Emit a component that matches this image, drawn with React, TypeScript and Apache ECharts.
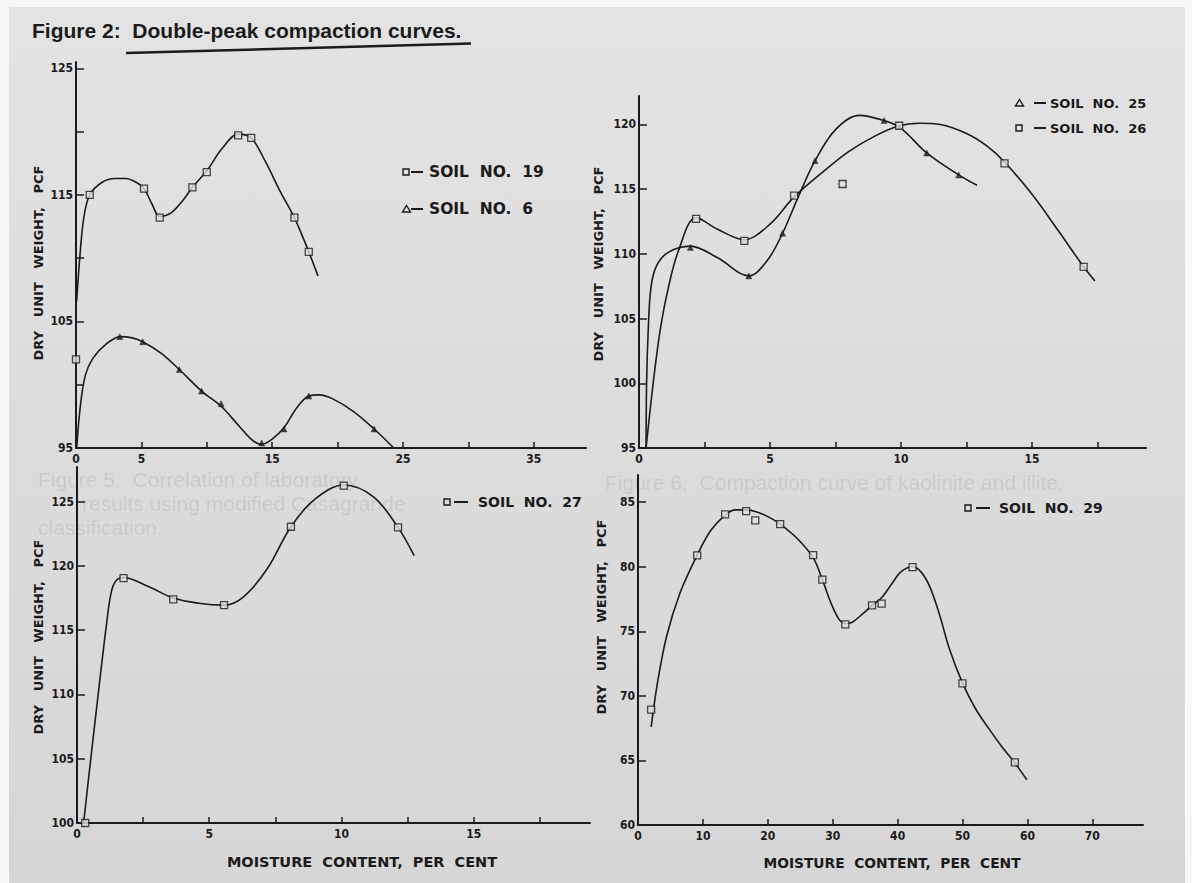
import React, { useEffect, useRef } from "react";
import * as echarts from "echarts";

// ---- Upper left: soils 19 and 6 ----
const soil19Points = [[0, 102.0], [1.05, 115.0], [5.2, 115.5], [6.4, 113.2], [8.9, 115.6], [10.0, 116.8], [12.4, 119.7], [13.4, 119.5], [16.7, 113.2], [17.8, 110.5]];
const soil19Curve = [[0.05, 106.6], [0.3, 110.2], [0.6, 113.2], [1.05, 115.0], [2.0, 116.0], [3.0, 116.3], [3.8, 116.3], [4.6, 116.0], [5.2, 115.5], [5.8, 114.3], [6.4, 113.3], [7.3, 113.6], [8.2, 114.6], [8.9, 115.6], [10.0, 116.9], [11.2, 118.7], [12.4, 119.8], [13.4, 119.5], [14.5, 117.6], [15.6, 115.3], [16.7, 113.2], [17.8, 110.5], [18.5, 108.6]];
const soil6Points = [[3.35, 103.8], [5.1, 103.4], [7.9, 101.2], [9.6, 99.5], [11.1, 98.5], [14.2, 95.4], [15.9, 96.5], [17.8, 99.1], [22.8, 96.5]];
const soil6Curve = [[0.05, 95], [0.3, 98], [0.7, 100.7], [1.3, 102.1], [2.3, 103.2], [3.4, 103.8], [4.3, 103.7], [5.1, 103.4], [6.5, 102.5], [7.9, 101.2], [9.6, 99.5], [11.1, 98.3], [12.5, 96.7], [13.5, 95.6], [14.2, 95.3], [15.0, 95.7], [15.9, 96.6], [16.9, 98.2], [17.8, 99.1], [18.6, 99.2], [19.6, 98.9], [21.2, 97.9], [22.8, 96.5], [24.3, 95]];

// ---- Upper right: soils 25 and 26 ----
const soil25Points = [[1.96, 110.5], [4.19, 108.3], [5.48, 111.6], [6.72, 117.2], [9.35, 120.3], [10.98, 117.8], [12.2, 116.1]];
const soil25Curve = [[0.27, 95], [0.29, 100], [0.35, 104], [0.45, 107.3], [0.65, 109.0], [1.1, 110.1], [1.96, 110.6], [3.0, 109.7], [4.19, 108.3], [4.9, 109.5], [5.48, 111.6], [6.1, 114.5], [6.72, 117.2], [7.5, 119.6], [8.4, 120.7], [9.35, 120.3], [10.0, 119.7], [10.98, 117.8], [12.2, 116.1], [12.9, 115.3]];
const soil26Points = [[2.18, 112.7], [4.02, 111.0], [5.92, 114.5], [7.77, 115.4], [9.93, 119.9], [13.95, 117.0], [16.97, 109.0]];
const soil26Curve = [[0.27, 95], [0.54, 100], [0.8, 104], [1.1, 107.2], [1.5, 110.2], [2.18, 112.8], [3.0, 111.9], [4.02, 111.1], [5.0, 112.3], [5.92, 114.4], [7.0, 116.3], [8.0, 117.9], [9.0, 119.1], [9.93, 119.9], [10.7, 120.1], [11.5, 120.0], [12.5, 119.3], [13.3, 118.3], [13.95, 117.1], [15.0, 114.6], [16.0, 111.8], [16.97, 109.0], [17.4, 107.9]];

// ---- Lower left: soil 27 ----
const soil27Points = [[0.31, 100.0], [1.76, 119.05], [3.64, 117.4], [5.56, 116.95], [8.09, 123.05], [10.09, 126.25], [12.14, 123.0]];
const soil27Curve = [[0.25, 100], [0.5, 104.6], [0.8, 110], [1.1, 115.2], [1.3, 118.0], [1.5, 118.9], [1.76, 119.1], [2.7, 118.4], [3.64, 117.5], [4.6, 117.1], [5.56, 116.95], [6.3, 117.6], [7.2, 119.8], [8.09, 123.05], [9.0, 125.2], [10.09, 126.3], [11.2, 125.4], [12.14, 123.0], [12.75, 120.8]];

// ---- Lower right: soil 29 ----
const soil29Points = [[2.03, 68.94], [9.12, 80.88], [13.42, 84.05], [16.66, 84.3], [18.07, 83.58], [21.9, 83.3], [26.98, 80.9], [28.4, 79.0], [31.94, 75.54], [36.06, 77.0], [37.53, 77.14], [42.3, 79.97], [49.98, 70.96], [58.06, 64.85]];
const soil29Curve = [[2.03, 67.6], [3.0, 71.0], [4.4, 74.6], [6.5, 78.0], [9.12, 80.9], [11.2, 82.8], [13.42, 84.0], [15.0, 84.4], [16.66, 84.4], [18.5, 84.2], [20.3, 83.8], [21.9, 83.3], [24.5, 82.2], [26.98, 80.7], [28.4, 79.0], [29.8, 77.1], [31.0, 75.9], [31.94, 75.6], [33.0, 75.7], [34.5, 76.3], [36.06, 77.0], [37.53, 77.6], [39.0, 78.6], [40.5, 79.6], [42.3, 80.0], [43.6, 79.6], [45.0, 78.4], [46.5, 76.2], [48.0, 73.6], [49.98, 71.0], [52.0, 69.0], [54.0, 67.5], [56.0, 66.1], [58.06, 64.8], [59.9, 63.5]];

// ---- Tick positions and labels ----
const p1XTicks = [0, 5, 10, 15, 20, 25, 30, 35];
const p1XLabels = [0, 5, 15, 25, 35];
const p1YTicks = [95, 100, 105, 110, 115, 120, 125];
const p1YLabels = [95, 105, 115, 125];
const p2XTicks = [0, 2.5, 5, 7.5, 10, 12.5, 15, 17.5];
const p2XLabels = [0, 5, 10, 15];
const p2YTicks = [95, 100, 105, 110, 115, 120];
const p3XTicks = [0, 2.5, 5, 7.5, 10, 12.5, 15, 17.5];
const p3XLabels = [0, 5, 10, 15];
const p3YTicks = [100, 105, 110, 115, 120, 125];
const p4XTicks = [0, 10, 20, 30, 40, 50, 60, 70];
const p4YTicks = [60, 65, 70, 75, 80, 85];

const Y_TITLE = "DRY   UNIT   WEIGHT,   PCF";
const X_TITLE = "MOISTURE  CONTENT,  PER  CENT";

const INK = "#1b1b1b";
const PAPER = "#dedede";
const TICK_FONT = "'Liberation Sans Narrow', 'DejaVu Sans Condensed', sans-serif";
const LABEL_FONT = "'DejaVu Sans', sans-serif";

function xAxisOf(grid: number, max: number, ticks: number[], labels: number[]) {
  return {
    type: "value",
    gridIndex: grid,
    min: 0,
    max,
    splitLine: { show: false },
    axisLine: { show: true, onZero: false, lineStyle: { color: INK, width: 2 } },
    axisTick: { show: true, inside: true, length: 6, customValues: ticks, lineStyle: { color: INK, width: 1.5 } },
    axisLabel: {
      customValues: labels,
      color: INK,
      fontSize: 12,
      fontWeight: "bold",
      fontFamily: TICK_FONT,
      margin: 5,
    },
  };
}

function yAxisOf(grid: number, min: number, max: number, ticks: number[], labels: number[]) {
  return {
    type: "value",
    gridIndex: grid,
    min,
    max,
    splitLine: { show: false },
    axisLine: { show: true, onZero: false, lineStyle: { color: INK, width: 2 } },
    axisTick: { show: true, inside: true, length: 8, customValues: ticks, lineStyle: { color: INK, width: 1.5 } },
    axisLabel: {
      customValues: labels,
      color: INK,
      fontSize: 12,
      fontWeight: "bold",
      fontFamily: TICK_FONT,
      margin: 3,
    },
  };
}

function curveSeries(name: string, grid: number, data: number[][]) {
  return {
    name,
    type: "line",
    xAxisIndex: grid,
    yAxisIndex: grid,
    data,
    smooth: 0.35,
    showSymbol: false,
    lineStyle: { color: INK, width: 1.6 },
    z: 3,
  };
}

function pointSeries(name: string, grid: number, data: number[][], shape: "square" | "triangle") {
  return {
    name,
    type: "scatter",
    xAxisIndex: grid,
    yAxisIndex: grid,
    data,
    symbol: shape === "square" ? "rect" : "triangle",
    symbolSize: shape === "square" ? 7 : 6,
    itemStyle:
      shape === "square"
        ? { color: PAPER, borderColor: INK, borderWidth: 1.3 }
        : { color: INK, borderColor: INK, borderWidth: 0.5 },
    z: 4,
  };
}

function textStyle(text: string, size: number, align: string, family = LABEL_FONT, weight = "bold", fill = INK) {
  return { text, fill, fontSize: size, fontWeight: weight, fontFamily: family, align, verticalAlign: "middle", textAlign: align, textVerticalAlign: "middle" };
}

// One legend row: symbol, dash, then the soil name
function legendEntry(gx: number, dx1: number, dx2: number, tx: number, y: number, shape: "square" | "triangle", label: string, size: number) {
  const glyph =
    shape === "square"
      ? { type: "rect", shape: { x: gx, y: y - 3, width: 6, height: 6 }, style: { fill: "none", stroke: INK, lineWidth: 1.4 } }
      : { type: "polygon", shape: { points: [[gx + 3.5, y - 3.5], [gx + 7.5, y + 3], [gx - 0.5, y + 3]] }, style: { fill: "none", stroke: INK, lineWidth: 1.4 } };
  return [
    glyph,
    { type: "line", shape: { x1: dx1, y1: y, x2: dx2, y2: y }, style: { stroke: INK, lineWidth: 2 } },
    { type: "text", x: tx, y, style: textStyle(label, size, "left") },
  ];
}

function yTitle(x: number, y: number) {
  return { type: "text", x, y, rotation: Math.PI / 2, style: textStyle(Y_TITLE, 13, "center") };
}

function ghostText(x: number, y: number, text: string, size: number) {
  return {
    type: "text",
    x,
    y,
    z: -5,
    style: textStyle(text, size, "left", "'Liberation Sans', sans-serif", "normal", "rgba(70,70,70,0.13)"),
  };
}

export default function App() {
  const ref = useRef<HTMLDivElement>(null);

  useEffect(() => {
    if (!ref.current) return;
    const chart = echarts.init(ref.current, undefined, { renderer: "svg" });

    const option = {
      animation: false,
      backgroundColor: "#f7f7f7",
      grid: [
        { left: 76, top: 62, width: 510, height: 386 },
        { left: 639, top: 96, width: 507, height: 352 },
        { left: 77, top: 467, width: 513, height: 356 },
        { left: 638, top: 475, width: 505, height: 350 },
      ],
      xAxis: [
        xAxisOf(0, 39, p1XTicks, p1XLabels),
        xAxisOf(1, 19.35, p2XTicks, p2XLabels),
        xAxisOf(2, 19.4, p3XTicks, p3XLabels),
        xAxisOf(3, 77.8, p4XTicks, p4XTicks),
      ],
      yAxis: [
        yAxisOf(0, 95, 125.5, p1YTicks, p1YLabels),
        yAxisOf(1, 95, 122.2, p2YTicks, p2YTicks),
        yAxisOf(2, 100, 127.7, p3YTicks, p3YTicks),
        yAxisOf(3, 60, 87.1, p4YTicks, p4YTicks),
      ],
      series: [
        curveSeries("Soil 19 curve", 0, soil19Curve),
        pointSeries("Soil 19", 0, soil19Points, "square"),
        curveSeries("Soil 6 curve", 0, soil6Curve),
        pointSeries("Soil 6", 0, soil6Points, "triangle"),
        curveSeries("Soil 25 curve", 1, soil25Curve),
        pointSeries("Soil 25", 1, soil25Points, "triangle"),
        curveSeries("Soil 26 curve", 1, soil26Curve),
        pointSeries("Soil 26", 1, soil26Points, "square"),
        curveSeries("Soil 27 curve", 2, soil27Curve),
        pointSeries("Soil 27", 2, soil27Points, "square"),
        curveSeries("Soil 29 curve", 3, soil29Curve),
        pointSeries("Soil 29", 3, soil29Points, "square"),
      ],
      graphic: [
        {
          type: "rect",
          z: -10,
          shape: { x: 9, y: 7, width: 1176, height: 876 },
          style: {
            fill: new echarts.graphic.LinearGradient(0, 0, 0, 1, [
              { offset: 0, color: "#e3e3e3" },
              { offset: 0.5, color: "#dcdcdc" },
              { offset: 1, color: "#d6d6d6" },
            ]),
          },
        },
        ghostText(38, 479, "Figure 5.  Correlation of laboratory", 21),
        ghostText(82, 503, "results using modified Casagrande", 21),
        ghostText(38, 527, "classification.", 21),
        ghostText(605, 482, "Figure 6.  Compaction curve of kaolinite and illite.", 21),
        { type: "text", x: 32, y: 30, style: textStyle("Figure 2:  Double-peak compaction curves.", 21, "left", "'Liberation Sans', sans-serif") },
        { type: "line", shape: { x1: 126, y1: 53, x2: 471, y2: 43.5 }, style: { stroke: INK, lineWidth: 2.5 } },
        ...legendEntry(403, 411, 423, 429, 172, "square", "SOIL  NO.  19", 15.5),
        ...legendEntry(403, 411, 423, 429, 209, "triangle", "SOIL  NO.  6", 15.5),
        ...legendEntry(1016, 1034, 1046, 1050, 103, "triangle", "SOIL  NO.  25", 13),
        ...legendEntry(1016, 1034, 1046, 1050, 128, "square", "SOIL  NO.  26", 13),
        ...legendEntry(444, 454, 468, 478, 502, "square", "SOIL  NO.  27", 14),
        ...legendEntry(965, 976, 990, 999, 508, "square", "SOIL  NO.  29", 14),
        yTitle(38, 263),
        yTitle(598, 264),
        yTitle(38, 637),
        yTitle(601, 617),
        { type: "text", x: 362, y: 862, style: textStyle(X_TITLE, 14.5, "center") },
        { type: "text", x: 892, y: 863, style: textStyle(X_TITLE, 13.8, "center") },
      ],
    };

    chart.setOption(option as any);
    return () => chart.dispose();
  }, []);

  return (
    <div
      ref={ref}
      style={{ position: "fixed", left: 0, top: 0, width: 1192, height: 883 }}
    />
  );
}
